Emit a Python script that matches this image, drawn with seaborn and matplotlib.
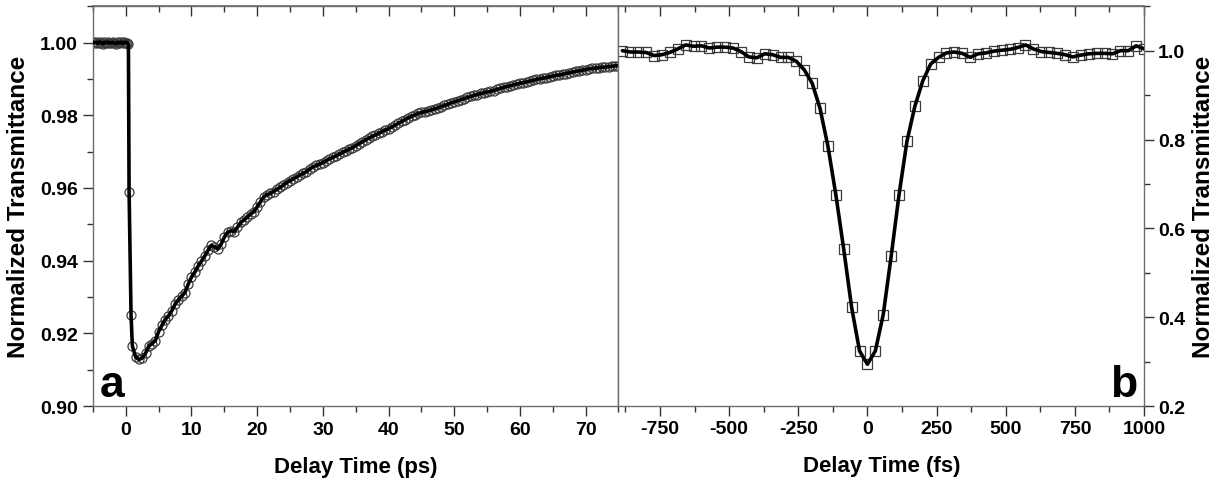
import numpy as np
import pandas as pd
import matplotlib
matplotlib.use("Agg")
import matplotlib.pyplot as plt
from matplotlib.ticker import MultipleLocator, FormatStrFormatter
import seaborn as sns

# ---------------- data ----------------
# panel a : picosecond delay scan
t_pre = [-5.0, -4.75, -4.5, -4.25, -4.0, -3.75, -3.5, -3.25, -3.0, -2.75, -2.5,
         -2.25, -2.0, -1.75, -1.5, -1.25, -1.0, -0.75, -0.5, -0.25, 0.0]
T_pre = [1.0002, 0.9999, 1.0001, 0.9998, 1.0002, 1.0000, 0.9997, 1.0001, 0.9999, 1.0002, 0.9998,
         1.0000, 1.0001, 0.9998, 0.9997, 1.0001, 0.9999, 1.0002, 0.9998, 1.0001, 1.0000]
t_drop = [0.25, 0.4, 0.5, 0.8, 1.0, 1.5]
T_drop = [1.0000, 0.9995, 0.9590, 0.9250, 0.9165, 0.9135]
t_rec = list(np.arange(2.0, 75.01, 0.5))
T_rec = [
    0.9128, 0.9132, 0.9145, 0.9165, 0.9172, 0.9180, 0.9205, 0.9222, 0.9238, 0.9248,  # 2.0-6.5
    0.9262, 0.9280, 0.9292, 0.9302, 0.9312, 0.9335, 0.9355, 0.9368, 0.9385, 0.9398,  # 7.0-11.5
    0.9412, 0.9428, 0.9442, 0.9438, 0.9432, 0.9445, 0.9465, 0.9478, 0.9482, 0.9480,  # 12.0-16.5
    0.9492, 0.9505, 0.9512, 0.9520, 0.9528, 0.9535, 0.9548, 0.9562, 0.9575, 0.9582,  # 17.0-21.5
    0.9585, 0.9590, 0.9596, 0.9602, 0.9608, 0.9615, 0.9620, 0.9625, 0.9630, 0.9636,  # 22.0-26.5
    0.9640, 0.9645, 0.9652, 0.9658, 0.9662, 0.9666, 0.9670, 0.9675, 0.9680, 0.9684,  # 27.0-31.5
    0.9688, 0.9693, 0.9698, 0.9702, 0.9707, 0.9711, 0.9716, 0.9722, 0.9727, 0.9732,  # 32.0-36.5
    0.9737, 0.9742, 0.9746, 0.9750, 0.9755, 0.9759, 0.9763, 0.9768, 0.9773, 0.9778,  # 37.0-41.5
    0.9783, 0.9788, 0.9793, 0.9797, 0.9801, 0.9805, 0.9808, 0.9810, 0.9812, 0.9815,  # 42.0-46.5
    0.9818, 0.9820, 0.9824, 0.9827, 0.9830, 0.9834, 0.9837, 0.9840, 0.9843, 0.9846,  # 47.0-51.5
    0.9849, 0.9852, 0.9855, 0.9857, 0.9860, 0.9862, 0.9864, 0.9866, 0.9868, 0.9871,  # 52.0-56.5
    0.9874, 0.9877, 0.9879, 0.9881, 0.9884, 0.9886, 0.9888, 0.9890, 0.9892, 0.9894,  # 57.0-61.5
    0.9896, 0.9899, 0.9901, 0.9902, 0.9904, 0.9906, 0.9908, 0.9910, 0.9911, 0.9913,  # 62.0-66.5
    0.9915, 0.9917, 0.9919, 0.9921, 0.9922, 0.9924, 0.9926, 0.9928, 0.9929, 0.9930,  # 67.0-71.5
    0.9931, 0.9932, 0.9933, 0.9934, 0.9935, 0.9936, 0.9937                          # 72.0-75.0
]
time_ps = t_pre + t_drop + t_rec
trans_ps = T_pre + T_drop + T_rec

# panel b : femtosecond delay scan (step = 200/7 fs)
time_fs = list(np.arange(-31, 36) * 200.0 / 7.0)
trans_fs = [
    1.000, 0.997, 0.997, 0.996, 0.989, 0.991, 0.996, 1.004, 1.013, 1.010,
    1.011, 1.006, 1.008, 1.008, 1.006, 0.998, 0.986, 0.984, 0.993, 0.991,
    0.985, 0.985, 0.976, 0.957, 0.927, 0.870, 0.785, 0.676, 0.553, 0.422,
    0.324, 0.294, 0.324, 0.406, 0.537, 0.676, 0.796, 0.875, 0.932, 0.970,
    0.985, 0.995, 0.997, 0.994, 0.985, 0.993, 0.995, 0.999, 1.001, 1.003,
    1.007, 1.013, 1.004, 0.998, 0.996, 0.994, 0.991, 0.986, 0.990, 0.993,
    0.994, 0.994, 0.993, 1.000, 1.000, 1.011, 1.004
]

ylabel = "Normalized Transmittance"
xlabel_a = "Delay Time (ps)"
xlabel_b = "Delay Time (fs)"
panel_a, panel_b = "a", "b"

df_a = pd.DataFrame({"t": time_ps, "T": trans_ps})
df_b = pd.DataFrame({"t": time_fs, "T": trans_fs})

# ---------------- style ----------------
sns.set_theme(style="ticks")
plt.rcParams["font.family"] = ["Liberation Sans", "DejaVu Sans"]
plt.rcParams["font.weight"] = "bold"
plt.rcParams["axes.labelweight"] = "bold"
plt.rcParams["axes.unicode_minus"] = False
plt.rcParams["text.color"] = "black"
plt.rcParams["axes.labelcolor"] = "black"
plt.rcParams["xtick.color"] = "black"
plt.rcParams["ytick.color"] = "black"

SPINE = "#6e6e6e"
TICKC = "#333333"
MK = "#3c3c3c"
TICKFS = 14
LABFS = 16
YLABFS = 17.5

fig = plt.figure(figsize=(12.15, 4.85), dpi=100)
gs = fig.add_gridspec(1, 2, left=0.0765, right=0.9416, top=0.985, bottom=0.1608, wspace=0)
ax1 = fig.add_subplot(gs[0, 0])
ax2 = fig.add_subplot(gs[0, 1])

def draw(ax, df, marker):
    sns.lineplot(data=df, x="t", y="T", ax=ax, estimator=None, sort=False,
                 marker=marker, linestyle="none", markersize=6.5,
                 markerfacecolor="none", markeredgecolor=MK, markeredgewidth=0.9,
                 zorder=2, legend=False)
    sns.lineplot(data=df, x="t", y="T", ax=ax, estimator=None, sort=False,
                 color="black", lw=2.6, zorder=3, legend=False)

draw(ax1, df_a, "o")
draw(ax2, df_b, "s")

# ---------------- axes: panel a ----------------
ax1.set_xlim(-5, 75)
ax1.set_ylim(0.90, 1.01)
ax1.xaxis.set_major_locator(MultipleLocator(10))
ax1.xaxis.set_minor_locator(MultipleLocator(5))
ax1.yaxis.set_major_locator(MultipleLocator(0.02))
ax1.yaxis.set_minor_locator(MultipleLocator(0.01))
ax1.yaxis.set_major_formatter(FormatStrFormatter("%.2f"))
ax1.tick_params(axis="both", which="major", length=7, width=1, color=TICKC,
                labelcolor="black", labelsize=TICKFS, pad=4)
ax1.tick_params(axis="both", which="minor", length=4, width=1, color=TICKC)
ax1.tick_params(axis="x", which="both", direction="out", top=False, bottom=True)
ax1.tick_params(axis="y", which="both", direction="out", left=True, right=False)
ax1.set_xlabel(xlabel_a, fontsize=LABFS, fontweight="bold", labelpad=13)
ax1.set_ylabel(ylabel, fontsize=YLABFS, fontweight="bold", labelpad=7)
ax1.text(0.013, 0.025, panel_a, transform=ax1.transAxes, fontsize=32,
         fontweight="bold", ha="left", va="baseline")

# ---------------- axes: panel b ----------------
ax2.set_xlim(-900, 1000)
ax2.set_ylim(0.2, 1.1)
ax2.xaxis.set_major_locator(MultipleLocator(250))
ax2.xaxis.set_minor_locator(MultipleLocator(125))
ax2.yaxis.set_major_locator(MultipleLocator(0.2))
ax2.yaxis.set_minor_locator(MultipleLocator(0.1))
ax2.yaxis.set_major_formatter(FormatStrFormatter("%.1f"))
ax2.yaxis.tick_right()
ax2.yaxis.set_label_position("right")
ax2.tick_params(axis="both", which="major", length=7, width=1, color=TICKC,
                labelcolor="black", labelsize=TICKFS, pad=3)
ax2.tick_params(axis="both", which="minor", length=4, width=1, color=TICKC)
ax2.tick_params(axis="x", which="both", direction="out", top=False, bottom=True)
ax2.tick_params(axis="y", which="both", direction="out", left=False, right=True,
                labelleft=False, labelright=True)
ax2.set_xlabel(xlabel_b, fontsize=LABFS, fontweight="bold", labelpad=13)
ax2.set_ylabel(ylabel, fontsize=YLABFS, fontweight="bold", labelpad=5,
               rotation=90)
ax2.text(0.987, 0.025, panel_b, transform=ax2.transAxes, fontsize=32,
         fontweight="bold", ha="right", va="baseline")

# inward ticks on the top spines (mirror axes)
for ax, maj, mnr in [(ax1, 10, 5), (ax2, 250, 125)]:
    sec = ax.secondary_xaxis("top")
    sec.xaxis.set_major_locator(MultipleLocator(maj))
    sec.xaxis.set_minor_locator(MultipleLocator(mnr))
    sec.tick_params(axis="x", which="major", direction="in", length=7, width=1,
                    color=TICKC, labeltop=False)
    sec.tick_params(axis="x", which="minor", direction="in", length=4, width=1,
                    color=TICKC)
    sec.spines["top"].set_color(SPINE)
    for lab in sec.get_xticklabels():
        lab.set_visible(False)

for ax in (ax1, ax2):
    for sp in ax.spines.values():
        sp.set_visible(True)
        sp.set_color(SPINE)
        sp.set_linewidth(1.0)
    for lab in ax.get_xticklabels() + ax.get_yticklabels():
        lab.set_fontweight("bold")
    ax.set_facecolor("white")
    ax.grid(False)

fig.savefig("out.png", dpi=100, facecolor="white")
